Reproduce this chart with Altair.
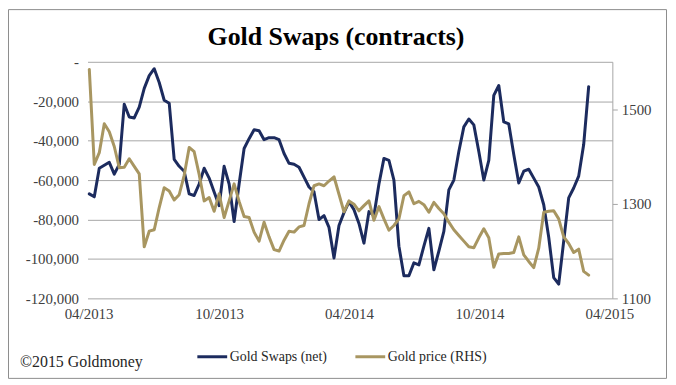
import altair as alt
import pandas as pd

# ---- data (weekly, from 2 Apr 2013) ----
start_date = "2013-04-02"
n_weeks = 101

gold_swaps_net = [
    -67000, -68500, -54000, -52500, -51000, -57000, -52000, -21500, -28000, -28500,
    -23000, -13500, -7000, -3500, -10500, -19500, -21000, -49500, -53000, -55500,
    -67000, -67800, -62000, -54000, -59000, -66000, -73000, -53000, -62000, -81000,
    -62000, -44000, -39000, -34500, -35000, -39500, -38500, -38500, -39500, -46500,
    -51500, -52000, -53500, -58500, -63500, -66000, -80000, -78000, -84000, -99500,
    -83000, -76500, -71000, -75000, -82000, -92000, -76000, -78000, -62000, -49000,
    -50000, -60000, -93500, -108500, -108500, -102000, -103000, -93500, -84500, -105500,
    -96000, -86000, -65000, -60000, -45500, -33000, -29000, -32000, -45500, -60000,
    -50000, -17000, -12000, -30500, -31500, -47000, -61500, -55500, -54500, -59000,
    -63500, -72500, -89000, -109500, -112800, -91000, -69000, -64000, -58000, -42000,
    -12600,
]

gold_price = [
    1584, 1383, 1408, 1469, 1452, 1421, 1376, 1377, 1395, 1379,
    1363, 1209, 1242, 1245, 1292, 1334, 1327, 1308, 1319, 1360,
    1419, 1410, 1362, 1306, 1313, 1284, 1321, 1271, 1306, 1342,
    1305, 1273, 1271, 1240, 1221, 1261, 1230, 1203, 1200, 1223,
    1242, 1240, 1251, 1254, 1300, 1338, 1342, 1338, 1348, 1357,
    1320, 1283, 1306, 1299, 1285, 1296, 1306, 1265, 1294, 1268,
    1244, 1254, 1268, 1317, 1325, 1300, 1305, 1298, 1282, 1303,
    1290, 1279, 1261, 1245, 1233, 1221, 1209, 1207, 1228, 1247,
    1228, 1166, 1194, 1195, 1195, 1197, 1230, 1192, 1178, 1165,
    1206, 1282, 1284, 1285, 1268, 1230, 1216, 1197, 1204, 1157,
    1149,
]

series_names = ["Gold Swaps (net)", "Gold price (RHS)"]
series_colors = ["#1C2B5E", "#A89661"]
swap_ticks = [-120000, -100000, -80000, -60000, -40000, -20000, 0]
price_ticks = [1100, 1300, 1500]
title_text = "Gold Swaps (contracts)"
credit_text = "\u00a92015 Goldmoney"

dates = pd.date_range(start=start_date, periods=n_weeks, freq="7D").strftime("%Y-%m-%d").tolist()

swaps_df = pd.DataFrame({"date": dates, "value": gold_swaps_net, "series": series_names[0]})
price_df = pd.DataFrame({"date": dates, "value": gold_price, "series": series_names[1]})

FONT = "Liberation Serif"
GRID = "#a6a6a6"
LABEL = "#404040"

x_enc = alt.X(
    "date:T",
    scale=alt.Scale(
        type="utc",
        domain=[
            alt.DateTime(year=2013, month=3, date=30, hours=12, utc=True),
            alt.DateTime(year=2015, month=4, date=5, hours=4, utc=True),
        ],
    ),
    axis=alt.Axis(
        title=None,
        values=[
            alt.DateTime(year=2013, month=4, date=1, utc=True),
            alt.DateTime(year=2013, month=10, date=1, utc=True),
            alt.DateTime(year=2014, month=4, date=1, utc=True),
            alt.DateTime(year=2014, month=10, date=1, utc=True),
            alt.DateTime(year=2015, month=4, date=1, utc=True),
        ],
        format="%m/%Y",
        grid=False,
        domain=False,
        ticks=False,
        tickSize=0,
        labelPadding=8,
        labelFont=FONT,
        labelFontSize=15,
        labelColor=LABEL,
        labelOverlap=False,
    ),
)

color_enc = alt.Color(
    "series:N",
    scale=alt.Scale(domain=series_names, range=series_colors),
    legend=alt.Legend(
        title=None,
        orient="none",
        legendX=109,
        legendY=280,
        direction="horizontal",
        symbolType="stroke",
        symbolSize=900,
        symbolStrokeWidth=3,
        labelFont=FONT,
        labelFontSize=14,
        labelColor="#262626",
        labelOffset=1,
        columnPadding=22,
        padding=0,
    ),
)

swaps_line = alt.Chart(swaps_df).mark_line(strokeWidth=3, strokeJoin="round", strokeCap="round").encode(
    x=x_enc,
    y=alt.Y(
        "value:Q",
        scale=alt.Scale(domain=[-120000, 0], nice=False, zero=False),
        axis=alt.Axis(
            title=None,
            orient="left",
            values=swap_ticks,
            grid=True,
            gridColor=GRID,
            gridWidth=1,
            domain=False,
            ticks=False,
            tickSize=0,
            labelPadding=9,
            labelFont=FONT,
            labelFontSize=15,
            labelColor=LABEL,
            labelExpr="datum.value == 0 ? '-\u00a0\u00a0\u00a0\u00a0' : '-' + format(-datum.value, ',')",
        ),
    ),
    color=color_enc,
)

price_line = alt.Chart(price_df).mark_line(strokeWidth=3, strokeJoin="round", strokeCap="round").encode(
    x=x_enc,
    y=alt.Y(
        "value:Q",
        scale=alt.Scale(domain=[1100, 1600], nice=False, zero=False),
        axis=alt.Axis(
            title=None,
            orient="right",
            values=price_ticks,
            format="d",
            grid=False,
            domain=True,
            domainColor=GRID,
            ticks=True,
            tickSize=5,
            tickColor=GRID,
            labelPadding=4,
            labelFont=FONT,
            labelFontSize=15,
            labelColor=LABEL,
        ),
    ),
    color=color_enc,
)

one = pd.DataFrame({"k": [0]})

border = alt.Chart(one).mark_rect(fillOpacity=0, stroke="#8c8c8c", strokeWidth=1).encode(
    x=alt.value(-79.5), x2=alt.value(582.5), y=alt.value(-52.5), y2=alt.value(318.5)
)

title = alt.Chart(one).mark_text(
    text=title_text, font=FONT, fontSize=26, fontWeight="bold", color="#000000",
    align="center", baseline="middle",
).encode(x=alt.value(250), y=alt.value(-25))

credit = alt.Chart(one).mark_text(
    text=credit_text, font=FONT, fontSize=16, color="#262626",
    align="left", baseline="middle",
).encode(x=alt.value(-68), y=alt.value(302))

chart = (
    alt.layer(swaps_line, price_line, border, title, credit)
    .resolve_scale(y="independent")
    .properties(
        width=528,
        height=238,
        padding={"left": 80, "top": 53, "right": 56, "bottom": 81},
        autosize=alt.AutoSizeParams(type="none"),
        background="white",
    )
    .configure_view(stroke=None)
)

chart.save("out.html", embed_options={"renderer": "svg", "actions": False})
